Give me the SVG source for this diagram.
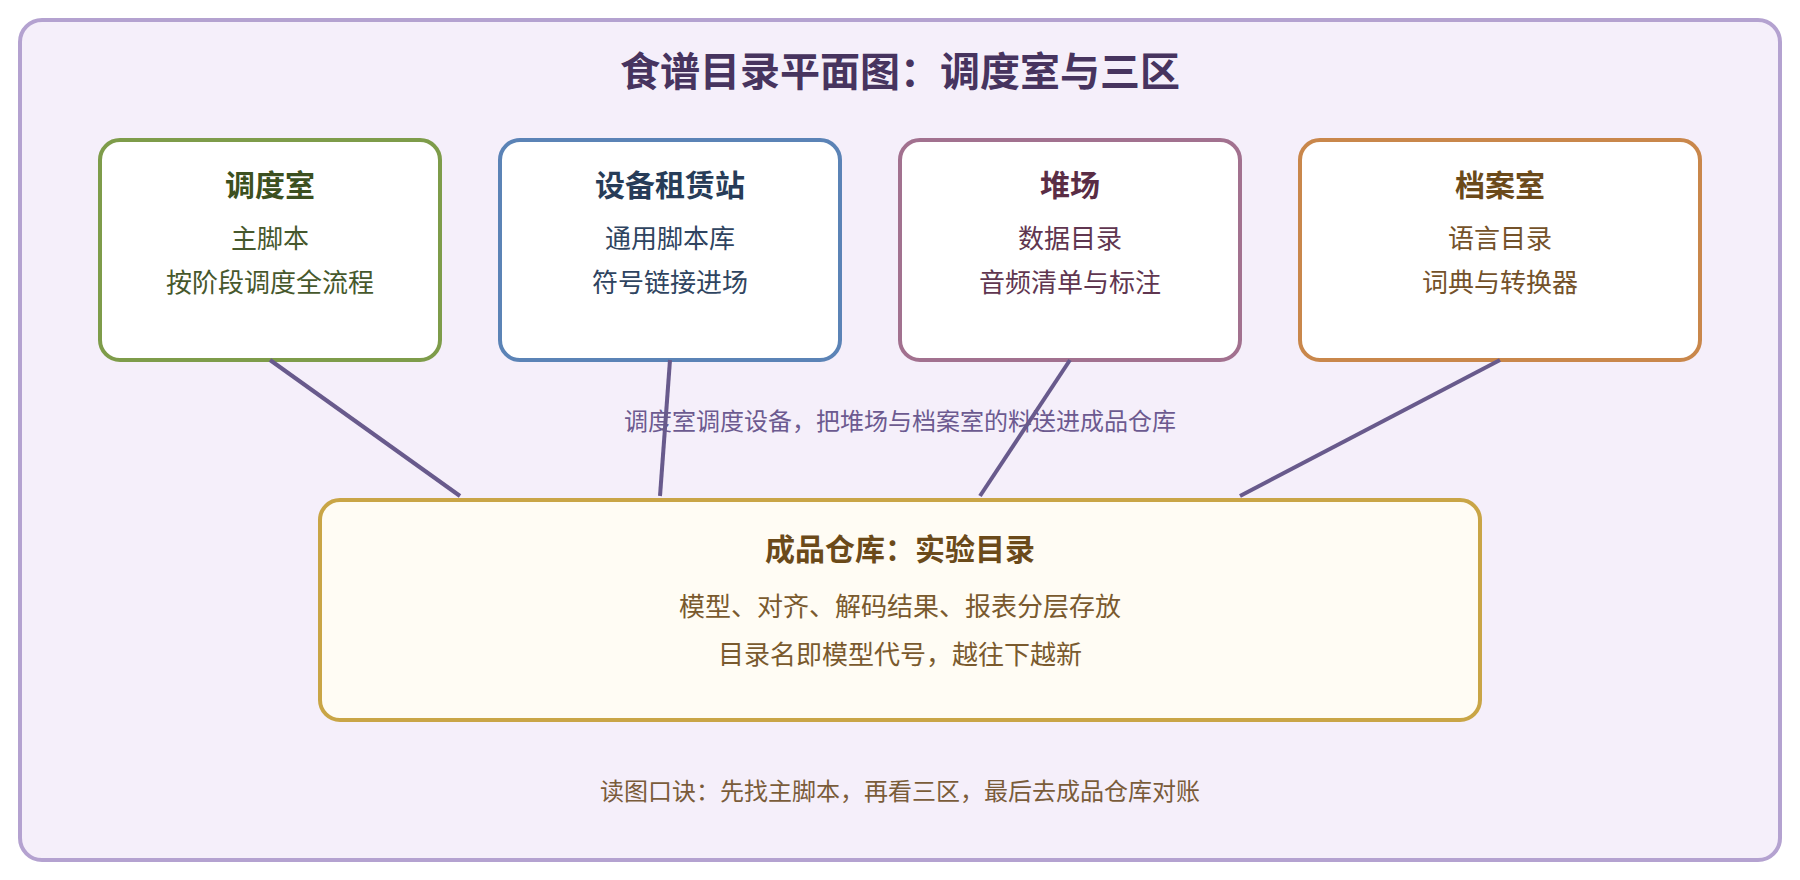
<svg xmlns="http://www.w3.org/2000/svg" width="1800" height="880" viewBox="0 0 1800 880">
<style>
  text { font-family: "Noto Sans CJK SC", "Noto Sans", sans-serif; text-anchor: middle; }
  .frame { fill: #f5effa; stroke: #b4a2d0; stroke-width: 4; }
  .title { font-size: 40px; font-weight: bold; fill: #47345f; }
  .box { fill: #ffffff; stroke-width: 4; }
  .ntitle { font-size: 30px; font-weight: bold; }
  .nline { font-size: 26px; }
  .conn { stroke: #685a8c; stroke-width: 4; stroke-linecap: butt; fill: none; }
  .mid { font-size: 24px; fill: #6c5a90; }
  .foot { font-size: 24px; fill: #7a5c3a; }
</style>
<rect class="frame" x="20" y="20" width="1760" height="840" rx="22"/>
<text class="title" x="900" y="86">食谱目录平面图：调度室与三区</text>

<g id="dispatch">
  <rect class="box" x="100" y="140" width="340" height="220" rx="20" stroke="#7e9c4a"/>
  <text class="ntitle" x="270" y="196" fill="#3c5020">调度室</text>
  <text class="nline" x="270" y="248" fill="#46582c">主脚本</text>
  <text class="nline" x="270" y="292" fill="#46582c">按阶段调度全流程</text>
</g>
<g id="equipment">
  <rect class="box" x="500" y="140" width="340" height="220" rx="20" stroke="#5b83b6"/>
  <text class="ntitle" x="670" y="196" fill="#273c58">设备租赁站</text>
  <text class="nline" x="670" y="248" fill="#2f4460">通用脚本库</text>
  <text class="nline" x="670" y="292" fill="#2f4460">符号链接进场</text>
</g>
<g id="yard">
  <rect class="box" x="900" y="140" width="340" height="220" rx="20" stroke="#a2718f"/>
  <text class="ntitle" x="1070" y="196" fill="#5a2d45">堆场</text>
  <text class="nline" x="1070" y="248" fill="#603650">数据目录</text>
  <text class="nline" x="1070" y="292" fill="#603650">音频清单与标注</text>
</g>
<g id="archive">
  <rect class="box" x="1300" y="140" width="400" height="220" rx="20" stroke="#c9874b"/>
  <text class="ntitle" x="1500" y="196" fill="#6b4a1a">档案室</text>
  <text class="nline" x="1500" y="248" fill="#74522a">语言目录</text>
  <text class="nline" x="1500" y="292" fill="#74522a">词典与转换器</text>
</g>
<g id="warehouse">
  <rect x="320" y="500" width="1160" height="220" rx="20" fill="#fffcf4" stroke="#c9a546" stroke-width="4"/>
  <text class="ntitle" x="900" y="560" fill="#6b4a1a">成品仓库：实验目录</text>
  <text class="nline" x="900" y="616" fill="#7a5a2e">模型、对齐、解码结果、报表分层存放</text>
  <text class="nline" x="900" y="664" fill="#7a5a2e">目录名即模型代号，越往下越新</text>
</g>

<text class="mid" x="900" y="430">调度室调度设备，把堆场与档案室的料送进成品仓库</text>

<g id="connectors">
  <line class="conn" x1="270" y1="360" x2="460" y2="496"/>
  <line class="conn" x1="670" y1="360" x2="660" y2="496"/>
  <line class="conn" x1="1070" y1="360" x2="980" y2="496"/>
  <line class="conn" x1="1500" y1="360" x2="1240" y2="496"/>
</g>

<text class="foot" x="900" y="800">读图口诀：先找主脚本，再看三区，最后去成品仓库对账</text>
</svg>
